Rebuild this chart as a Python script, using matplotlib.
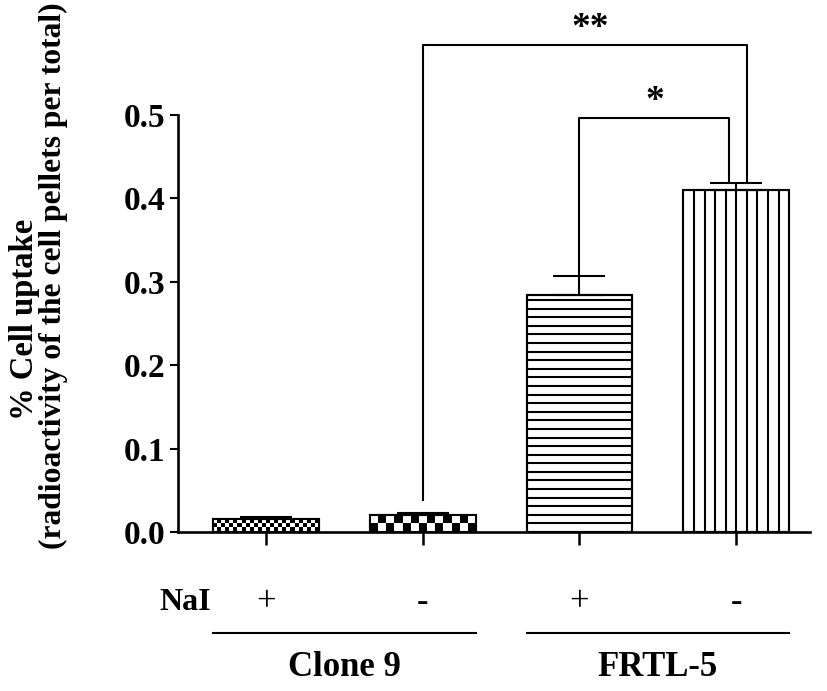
import numpy as np
import matplotlib
matplotlib.use("Agg")
import matplotlib.pyplot as plt

# data
conditions = ["+", "-", "+", "-"]
uptake = [0.016, 0.020, 0.284, 0.410]
uptake_err = [0.002, 0.003, 0.023, 0.008]
groups = ["Clone 9", "FRTL-5"]
group_members = [(0, 1), (2, 3)]
yticks = [0.0, 0.1, 0.2, 0.3, 0.4, 0.5]
# significance brackets: (left bar, right bar), height, label
sig_pairs = [(1, 3), (2, 3)]
sig_heights = [0.584, 0.496]
sig_labels = ["**", "*"]

plt.rcParams['font.family'] = ['Liberation Serif', 'DejaVu Serif']

fig = plt.figure(figsize=(8.27, 6.91), dpi=100)
ax = fig.add_axes([0.2152, 0.2301, 0.7642, 0.6035])

x = np.arange(len(uptake))
w = 0.675
lw = 1.5

bars = ax.bar(x, uptake, width=w, facecolor='white', edgecolor='black',
              linewidth=lw, zorder=1)
# outline again on top of the fill patterns
ax.bar(x, uptake, width=w, fill=False, edgecolor='black', linewidth=lw, zorder=4)

# fill patterns
def checker(rect, rows, cols):
    arr = np.indices((rows, cols)).sum(0) % 2
    ax.imshow(arr, cmap='binary', interpolation='nearest', aspect='auto',
              extent=(rect.get_x(), rect.get_x() + rect.get_width(),
                      0, rect.get_height()), zorder=2)

checker(bars[0], 3, 26)
checker(bars[1], 2, 13)

r = bars[2]
ys = np.arange(0.0103, r.get_height(), 0.0103)
ax.hlines(ys, r.get_x(), r.get_x() + r.get_width(), color='black', lw=lw, zorder=3)

r = bars[3]
xs = np.linspace(r.get_x(), r.get_x() + r.get_width(), 11)[1:-1]
ax.vlines(xs, 0, r.get_height(), color='black', lw=lw, zorder=3)

# one-sided error bars
ax.errorbar(x, uptake, yerr=[np.zeros(len(uptake)), uptake_err], fmt='none',
            ecolor='black', elinewidth=lw, capsize=19, capthick=lw, zorder=5)

ax.set_xlim(-0.56, 3.47)
ax.set_ylim(0, 0.5)

for s in ['top', 'right']:
    ax.spines[s].set_visible(False)
for s in ['left', 'bottom']:
    ax.spines[s].set_linewidth(1.9)

ax.set_yticks(yticks)
ax.set_yticklabels([f"{v:.1f}" for v in yticks], fontsize=24, fontweight='bold')
ax.set_xticks(x)
ax.set_xticklabels([])
ax.tick_params(axis='y', length=6, width=1.5, pad=3)
ax.tick_params(axis='x', length=9, width=1.8)

# brackets
tops = np.array(uptake) + np.array(uptake_err)
leg_gap = [0.015, 0.0]
leg_shift = [0.07, -0.045]
star_shift = [0.07, -0.02]
for k, ((a, b), h, lab) in enumerate(zip(sig_pairs, sig_heights, sig_labels)):
    xa = x[a]
    xb = x[b] + leg_shift[k]
    ax.plot([xa, xa, xb, xb], [tops[a] + leg_gap[k], h, h, tops[b]],
            color='black', lw=lw, clip_on=False, zorder=6)
    ax.text((x[a] + x[b]) / 2 + star_shift[k], h - 0.001, lab, ha='center',
            va='bottom', fontsize=27, fontweight='bold', clip_on=False)

# treatment row and groups below the axis
ax.text(-0.35, -0.085, "NaI", ha='right', va='center', fontsize=23,
        fontweight='bold', clip_on=False)
for xi, c in zip(x, conditions):
    ax.text(xi, -0.085, c, ha='center', va='center', fontsize=25, clip_on=False)
for g, (i0, i1) in zip(groups, group_members):
    ax.plot([x[i0] - w / 2, x[i1] + w / 2], [-0.121, -0.121], color='black',
            lw=lw, clip_on=False)
    ax.text((x[i0] + x[i1]) / 2, -0.163, g, ha='center', va='center',
            fontsize=25, fontweight='bold', clip_on=False)

fig.text(25 / 827, 1 - 319 / 691, "% Cell uptake", rotation=90, ha='center',
         va='center', fontsize=23.5, fontweight='bold')
fig.text(53 / 827, 1 - 276 / 691, "(radioactivity of the cell pellets per total)",
         rotation=90, ha='center', va='center', fontsize=22.7, fontweight='bold')

fig.savefig("out.png", dpi=100)
